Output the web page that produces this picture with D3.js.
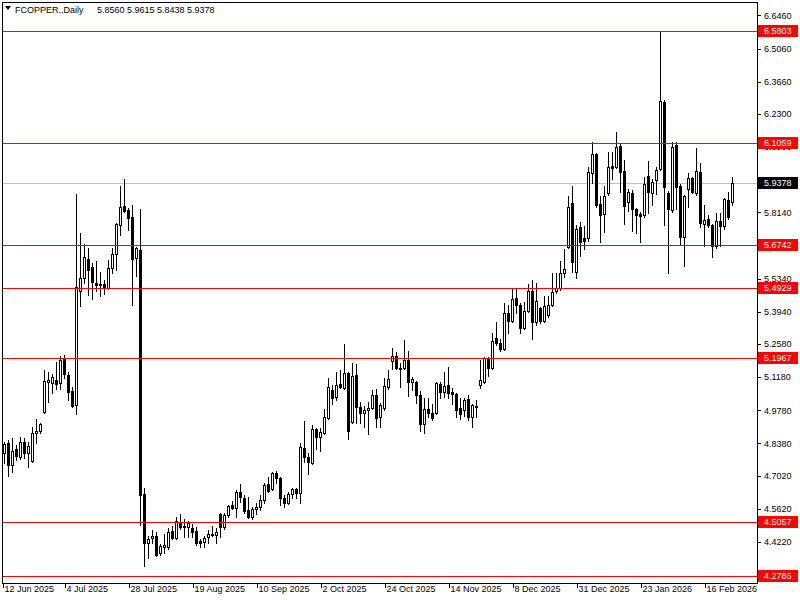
<!DOCTYPE html>
<html><head><meta charset="utf-8">
<script src="https://cdn.jsdelivr.net/npm/d3@7"></script>
<style>
body{margin:0;background:#fff;}
text{font-family:"Liberation Sans",Arial,sans-serif;font-size:9px;}
</style>
</head><body>
<svg id="chart" width="800" height="600"></svg>
<script>
const symbolLabel = "FCOPPER.,Daily";
const dateLabels = ["12 Jun 2025","4 Jul 2025","28 Jul 2025","19 Aug 2025","10 Sep 2025","2 Oct 2025","24 Oct 2025","14 Nov 2025","8 Dec 2025","31 Dec 2025","23 Jan 2026","16 Feb 2026"];
const dateLabelBars = [0,16,32,48,64,80,96,112,128,144,160,176];
const priceTicks = [6.6460,6.5060,6.3660,6.2300,6.0900,5.8140,5.5340,5.3940,5.2580,5.1180,4.9780,4.8380,4.7020,4.5620,4.4220];
const levels = [6.5803,6.1059,5.6742,5.4929,5.1967,4.5057,4.2786];
const lastPrice = 5.9378;

const openP = [4.7975,4.8397,4.7468,4.8144,4.7806,4.8440,4.7975,4.7637,4.8820,4.8904,
4.9707,5.0975,5.0932,5.1059,5.0932,5.1946,5.1270,5.0594,5.0003,5.4818,
5.5368,5.6170,5.5832,5.5156,5.5072,5.5114,5.4945,5.5790,5.6382,5.7607,
5.8410,5.8241,5.7945,5.6213,5.6551,4.6243,4.4172,4.4384,4.4468,4.3750,
4.4003,4.4003,4.4679,4.4384,4.5060,4.4848,4.4848,4.4806,4.4679,4.4257,
4.4215,4.4426,4.4553,4.4510,4.5398,4.4848,4.5355,4.5778,4.5651,4.6327,
4.6074,4.5567,4.5271,4.5609,4.5693,4.5989,4.6665,4.6454,4.7130,4.6919,
4.6074,4.5862,4.6243,4.6454,4.6285,4.8186,4.7806,4.7552,4.8989,4.8651,
4.8820,4.9454,5.0637,5.0341,5.0890,5.0721,5.1355,4.9285,5.1270,4.9918,
4.9665,4.9792,4.9876,5.0425,4.9496,4.9876,5.0763,5.1862,5.2073,5.1566,
5.1566,5.1904,5.0975,5.0975,5.0425,4.9200,4.9834,4.9665,4.9665,5.0890,
5.0552,5.0848,5.0552,5.0468,4.9876,4.9792,5.0256,4.9496,4.9961,5.0848,
5.0975,5.1989,5.1566,5.2834,5.2622,5.2369,5.3890,5.3552,5.4523,5.4228,
5.3256,5.3974,5.4818,5.3510,5.4101,5.3552,5.3805,5.4228,5.4818,5.4945,
5.5579,5.6677,5.8536,5.5621,5.7522,5.7058,5.7058,5.9804,6.0607,5.8494,
5.8072,5.8959,6.0100,6.0057,6.0945,5.9888,5.8579,5.8959,5.8283,5.8072,
5.8029,5.9677,5.8959,5.9508,5.9973,6.2804,5.8959,5.8241,6.0987,5.9255,
5.7100,5.9128,5.9593,5.8959,5.9846,5.7649,5.7860,5.7607,5.6720,5.7776,
5.7565,5.8663,5.8560];
const highP = [4.8440,4.8524,4.8609,4.8313,4.8651,4.8609,4.8440,4.9073,4.9411,4.9242,
5.1482,5.1397,5.1313,5.1820,5.2073,5.2115,5.1397,5.0763,5.8917,5.7269,
5.6804,5.6635,5.6001,5.6086,5.5621,5.5283,5.6128,5.6635,5.7691,5.9255,
5.9550,5.8325,5.8452,5.6677,5.8283,4.6496,4.4468,4.4722,4.4637,4.4130,
4.4553,4.4806,4.4891,4.5271,4.5398,4.5186,4.5102,4.4975,4.4848,4.4341,
4.4468,4.4722,4.4891,4.4806,4.5440,4.5440,4.5778,4.5947,4.6412,4.6665,
4.6200,4.6116,4.5693,4.5862,4.6200,4.6707,4.6961,4.7172,4.7214,4.6961,
4.6200,4.6327,4.6496,4.6496,4.8397,4.9327,4.7975,4.9158,4.9031,4.9031,
4.9834,5.1144,5.0848,5.1397,5.1482,5.2580,5.1397,5.1777,5.1735,5.0130,
4.9961,5.0130,5.0637,5.0679,5.0087,5.1144,5.1482,5.2411,5.2242,5.1777,
5.2749,5.2284,5.1186,5.1017,5.0594,5.0299,5.0299,5.0045,5.0975,5.0975,
5.1397,5.1608,5.0721,5.0510,5.0299,5.0299,5.0425,5.0045,5.0214,5.1904,
5.2031,5.2031,5.3045,5.3510,5.2791,5.4312,5.4228,5.4903,5.4903,5.4312,
5.4355,5.5114,5.5283,5.5156,5.4143,5.4607,5.4607,5.5579,5.5579,5.6086,
5.6593,5.8832,5.9255,5.7607,5.7734,5.7565,6.0057,6.1114,6.0649,5.8832,
5.9255,6.0691,6.0691,6.1536,6.1071,6.0353,5.9128,5.9086,5.8325,5.8156,
5.9635,6.0311,5.9550,6.0057,6.5803,6.2888,5.9043,6.1114,6.1114,5.9339,
5.8874,5.9804,5.9635,6.0860,6.0226,5.8452,5.8029,5.7649,5.8114,5.8114,
5.8748,5.9001,5.9615];
const lowP = [4.7552,4.7003,4.7172,4.7679,4.7721,4.7764,4.7383,4.7595,4.8397,4.8820,
4.9665,5.0130,5.0510,5.0679,5.0679,5.1144,5.0214,4.9918,4.9623,5.4186,
5.5156,5.4649,5.4480,5.4818,5.4607,5.4692,5.4903,5.5579,5.5706,5.7184,
5.8156,5.7396,5.4228,5.5452,4.4933,4.3201,4.3539,4.4172,4.3623,4.3665,
4.3750,4.3919,4.4341,4.4341,4.4764,4.4426,4.4426,4.4426,4.4088,4.4003,
4.4003,4.4172,4.4468,4.4172,4.4426,4.4764,4.5271,4.5609,4.5271,4.5905,
4.5440,4.5229,4.5186,4.5398,4.5567,4.5862,4.6327,4.6412,4.6707,4.5778,
4.5693,4.5820,4.6074,4.6074,4.5862,4.7595,4.7088,4.7510,4.8144,4.8059,
4.8778,4.9411,5.0045,5.0214,5.0721,5.0679,4.8566,4.9242,4.9242,4.9242,
4.9073,4.8778,4.9834,4.9073,4.9073,4.9792,5.0679,5.1524,5.1524,5.0763,
5.1524,5.0383,5.0637,5.0087,4.8904,4.8820,4.9496,4.9369,4.9623,5.0299,
5.0341,5.0299,5.0045,4.9496,4.9411,4.9538,4.9369,4.9073,4.9496,5.0721,
5.0932,5.1228,5.1524,5.2538,5.2284,5.2327,5.3045,5.3510,5.3890,5.3045,
5.3214,5.3932,5.2791,5.3383,5.3467,5.3510,5.3721,5.4186,5.4734,5.4861,
5.5410,5.6635,5.5621,5.5368,5.6297,5.6593,5.6931,5.9381,5.8367,5.6889,
5.7311,5.8874,5.9550,6.0015,5.9001,5.7649,5.8198,5.7353,5.7269,5.6889,
5.7945,5.8114,5.8452,5.8917,5.9931,5.7607,5.5579,5.8156,5.8283,5.6804,
5.5875,5.8367,5.8959,5.8874,5.7522,5.6720,5.7522,5.6255,5.6635,5.6720,
5.7438,5.7860,5.8438];
const closeP = [4.8355,4.7468,4.8059,4.7848,4.8440,4.7975,4.8271,4.8820,4.8904,4.9200,
5.1017,5.1059,5.1186,5.0890,5.1904,5.1313,5.0552,4.9961,5.4987,5.5368,
5.6255,5.5706,5.5199,5.5072,5.5114,5.4945,5.5790,5.6382,5.7649,5.8367,
5.8198,5.7903,5.6170,5.6635,4.6200,4.4172,4.4341,4.4468,4.3665,4.4046,
4.4088,4.4637,4.4384,4.5102,4.4848,4.4891,4.5017,4.4637,4.4172,4.4172,
4.4384,4.4553,4.4510,4.4637,4.4848,4.5355,4.5736,4.5651,4.6327,4.6116,
4.5524,4.5271,4.5609,4.5693,4.5989,4.6623,4.6369,4.7130,4.6919,4.6074,
4.5862,4.6243,4.6454,4.6285,4.8228,4.7806,4.7595,4.8989,4.8651,4.8862,
4.9496,5.0763,5.0299,5.0848,5.0763,5.1355,4.8904,5.1228,4.9918,4.9665,
4.9792,4.9876,5.0425,4.9454,5.0003,5.0806,5.1101,5.2073,5.1566,5.1524,
5.1904,5.0975,5.1101,5.0425,4.9200,4.9834,4.9665,4.9454,5.0932,5.0552,
5.0806,5.0510,5.0468,4.9792,4.9623,5.0214,4.9496,5.0003,4.9918,5.1059,
5.1989,5.1566,5.2707,5.2622,5.2369,5.3890,5.3552,5.4480,5.4228,5.3256,
5.3974,5.4818,5.3510,5.4397,5.3552,5.4186,5.4228,5.4776,5.4945,5.5579,
5.5748,5.8367,5.6044,5.7438,5.6889,5.6931,5.9846,6.0607,5.8452,5.8029,
5.8832,6.0057,6.0015,6.0902,5.9846,5.8410,5.9001,5.8283,5.8029,5.7987,
5.9339,5.9001,5.9424,5.9931,6.2846,5.9212,5.8283,6.0902,5.9212,5.7100,
5.8832,5.9593,5.9001,5.9888,5.7691,5.7818,5.7607,5.6720,5.7776,5.7565,
5.8705,5.7945,5.9378];

const svg = d3.select("#chart");
const plot = {left:2, top:2, right:757, bottom:583};
const n = closeP.length;
const x = d3.scaleLinear().domain([0, n-1]).range([4, 4 + 4*(n-1)]);
const y = d3.scaleLinear().domain([4.5057, 6.5803]).range([522, 31]);
const bars = d3.range(n).map(i => ({i, o:openP[i], h:highP[i], l:lowP[i], c:closeP[i]}));

svg.append("rect").attr("width",800).attr("height",600).attr("fill","#fff");
svg.append("defs").append("clipPath").attr("id","clip").append("rect")
  .attr("x",plot.left+1).attr("y",plot.top+1)
  .attr("width",plot.right-plot.left-1).attr("height",plot.bottom-plot.top-1);

const g = svg.append("g").attr("clip-path","url(#clip)").attr("shape-rendering","crispEdges");

// current price line
g.append("line").attr("x1",plot.left).attr("x2",plot.right)
  .attr("y1",Math.round(y(lastPrice))+0.5).attr("y2",Math.round(y(lastPrice))+0.5)
  .attr("stroke","#c0c0c0").attr("stroke-width",1);

// wicks
g.selectAll("line.wick").data(bars).join("line").attr("class","wick")
  .attr("x1",d=>Math.round(x(d.i))+0.5).attr("x2",d=>Math.round(x(d.i))+0.5)
  .attr("y1",d=>Math.round(y(d.h))).attr("y2",d=>Math.round(y(d.l))+1)
  .attr("stroke","#000").attr("stroke-width",1);

// bodies
g.selectAll("rect.body").data(bars).join("rect").attr("class","body")
  .each(function(d){
    const top = Math.round(y(Math.max(d.o,d.c)));
    const bot = Math.round(y(Math.min(d.o,d.c)));
    const cx = Math.round(x(d.i));
    const sel = d3.select(this);
    if (d.c >= d.o) {
      sel.attr("x",cx-0.5).attr("y",top+0.5).attr("width",2).attr("height",Math.max(0,bot-top))
        .attr("fill","#fff").attr("stroke","#000").attr("stroke-width",1);
    } else {
      sel.attr("x",cx-1).attr("y",top).attr("width",3).attr("height",Math.max(1,bot-top+1))
        .attr("fill","#000");
    }
  });

// level lines
g.selectAll("line.level").data(levels).join("line").attr("class","level")
  .attr("x1",plot.left).attr("x2",plot.right)
  .attr("y1",d=>Math.round(y(d))+0.5).attr("y2",d=>Math.round(y(d))+0.5)
  .attr("stroke","#ff0000").attr("stroke-width",1);

// frame
svg.append("rect").attr("x",plot.left+0.5).attr("y",plot.top+0.5)
  .attr("width",plot.right-plot.left).attr("height",plot.bottom-plot.top)
  .attr("fill","none").attr("stroke","#000").attr("shape-rendering","crispEdges");

// right axis
const yAxis = d3.axisRight(y).tickValues(priceTicks).tickFormat(d3.format(".4f")).tickSize(3).tickPadding(3);
const ya = svg.append("g").attr("transform",`translate(${plot.right+1},0)`).call(yAxis);
ya.select(".domain").remove();
ya.selectAll(".tick line").attr("stroke","#000").attr("shape-rendering","crispEdges");
ya.selectAll(".tick text").attr("fill","#000").style("font-size","9px").style("font-family","Liberation Sans, Arial, sans-serif");

// level tags
const tagG = svg.append("g");
const tags = levels.map(v=>({v, bg:"#ff0000"})).concat([{v:lastPrice, bg:"#000"}]);
tags.forEach(t=>{
  const yy = Math.round(y(t.v));
  tagG.append("rect").attr("x",plot.right+1).attr("y",yy-6).attr("width",40).attr("height",12)
    .attr("fill",t.bg).attr("shape-rendering","crispEdges");
  tagG.append("text").attr("x",plot.right+7).attr("y",yy).attr("dy","0.35em")
    .attr("fill","#fff").text(d3.format(".4f")(t.v));
});

// bottom axis
const xAxis = d3.axisBottom(x).tickValues(dateLabelBars).tickFormat((d,i)=>dateLabels[i]).tickSize(4).tickPadding(1);
const xa = svg.append("g").attr("transform",`translate(0,${plot.bottom+1})`).call(xAxis);
xa.select(".domain").remove();
xa.selectAll(".tick").attr("transform",d=>`translate(${Math.max(plot.left+1, Math.round(x(d))-3)+0.5},0)`);
xa.selectAll(".tick line").attr("stroke","#000").attr("shape-rendering","crispEdges");
xa.selectAll(".tick text").attr("text-anchor","start").attr("x",1).attr("y",2).attr("dy","0.71em")
  .attr("fill","#000").style("font-size","9px").style("font-family","Liberation Sans, Arial, sans-serif");

// header
svg.append("path").attr("d","M5,6 L11,6 L8,10 Z").attr("fill","#000");
svg.append("text").attr("x",15).attr("y",13).attr("fill","#000").text(symbolLabel);
svg.append("text").attr("x",97).attr("y",13).attr("fill","#000")
  .text([openP[n-1],highP[n-1],lowP[n-1],closeP[n-1]].map(d3.format(".4f")).join(" "));
</script>
</body></html>
